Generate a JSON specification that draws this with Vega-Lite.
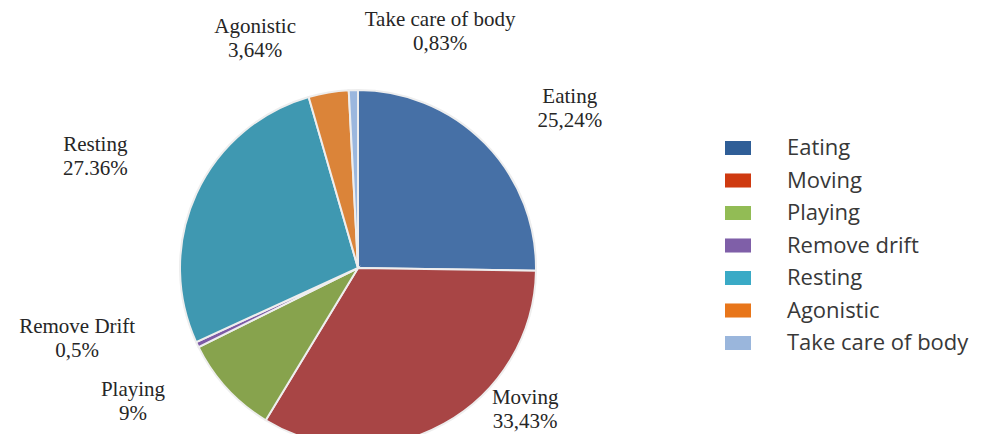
{
  "$schema": "https://vega.github.io/schema/vega-lite/v6.json",
  "autosize": "none",
  "width": 716,
  "height": 330,
  "padding": {"left": 0, "right": 279, "top": 103, "bottom": 1},
  "background": "white",
  "config": {"view": {"stroke": null}},
  "data": {
    "values": [
      {"idx": 1, "cat": "Eating", "label": "Eating", "value": 25.24, "txt": "Eating\n25,24%"},
      {"idx": 2, "cat": "Moving", "label": "Moving", "value": 33.43, "txt": "Moving\n33,43%"},
      {"idx": 3, "cat": "Playing", "label": "Playing", "value": 9, "txt": "Playing\n9%"},
      {"idx": 4, "cat": "Remove drift", "label": "Remove Drift", "value": 0.5, "txt": "Remove Drift\n0,5%"},
      {"idx": 5, "cat": "Resting", "label": "Resting", "value": 27.36, "txt": "Resting\n27.36%"},
      {"idx": 6, "cat": "Agonistic", "label": "Agonistic", "value": 3.64, "txt": "Agonistic\n3,64%"},
      {"idx": 7, "cat": "Take care of body", "label": "Take care of body", "value": 0.83, "txt": "Take care of body\n0,83%"}
    ]
  },
  "encoding": {
    "theta": {"field": "value", "type": "quantitative", "stack": true},
    "order": {"field": "idx", "type": "quantitative"}
  },
  "layer": [
    {
      "mark": {"type": "arc", "outerRadius": 1},
      "encoding": {
        "fill": {
          "field": "cat",
          "type": "nominal",
          "scale": {
            "domain": ["Eating", "Moving", "Playing", "Remove drift", "Resting", "Agonistic", "Take care of body"],
            "range": ["#2F5E97", "#CF3A10", "#92BC55", "#7F5FA8", "#3AAAC6", "#E8761A", "#9AB6DC"]
          },
          "legend": {
            "title": null,
            "orient": "none",
            "legendX": 725,
            "legendY": 32,
            "symbolType": "M-1,-0.54H1V0.54H-1Z",
            "symbolSize": 676,
            "symbolStrokeWidth": 0,
            "symbolOpacity": 1,
            "labelFont": "Open Sans",
            "labelFontSize": 22,
            "labelColor": "#383838",
            "labelOffset": 36,
            "rowPadding": 8.5,
            "labelLimit": 300,
            "padding": 0
          }
        }
      }
    },
    {
      "mark": {"type": "arc", "outerRadius": 178, "stroke": "#eeeeee", "strokeWidth": 2},
      "encoding": {
        "color": {
          "field": "cat",
          "type": "nominal",
          "scale": {
            "domain": ["Eating", "Moving", "Playing", "Remove drift", "Resting", "Agonistic", "Take care of body"],
            "range": ["#4670A6", "#A84545", "#87A34D", "#7D5BA6", "#3F98B1", "#DB8439", "#9BB7DE"]
          },
          "legend": null
        }
      }
    },
    {
      "mark": {
        "type": "text",
        "font": "Liberation Serif",
        "fontSize": 21,
        "lineHeight": 24,
        "lineBreak": "\n",
        "color": "#262626",
        "align": "center",
        "baseline": "middle",
        "radius": {"expr": "datum.idx == 1 ? 272 : datum.idx == 2 ? 212 : datum.idx == 3 ? 256 : datum.idx == 4 ? 287 : datum.idx == 5 ? 290 : datum.idx == 6 ? 262 : 261"},
        "thetaOffset": {"expr": "datum.idx == 1 ? 0.0995 : datum.idx == 2 ? -0.403 : datum.idx == 3 ? 0.246 : datum.idx == 4 ? 0.237 : datum.idx == 5 ? 0.007 : datum.idx == 6 ? -0.237 : 0.346"}
      },
      "encoding": {
        "text": {"field": "txt", "type": "nominal"}
      }
    }
  ]
}
